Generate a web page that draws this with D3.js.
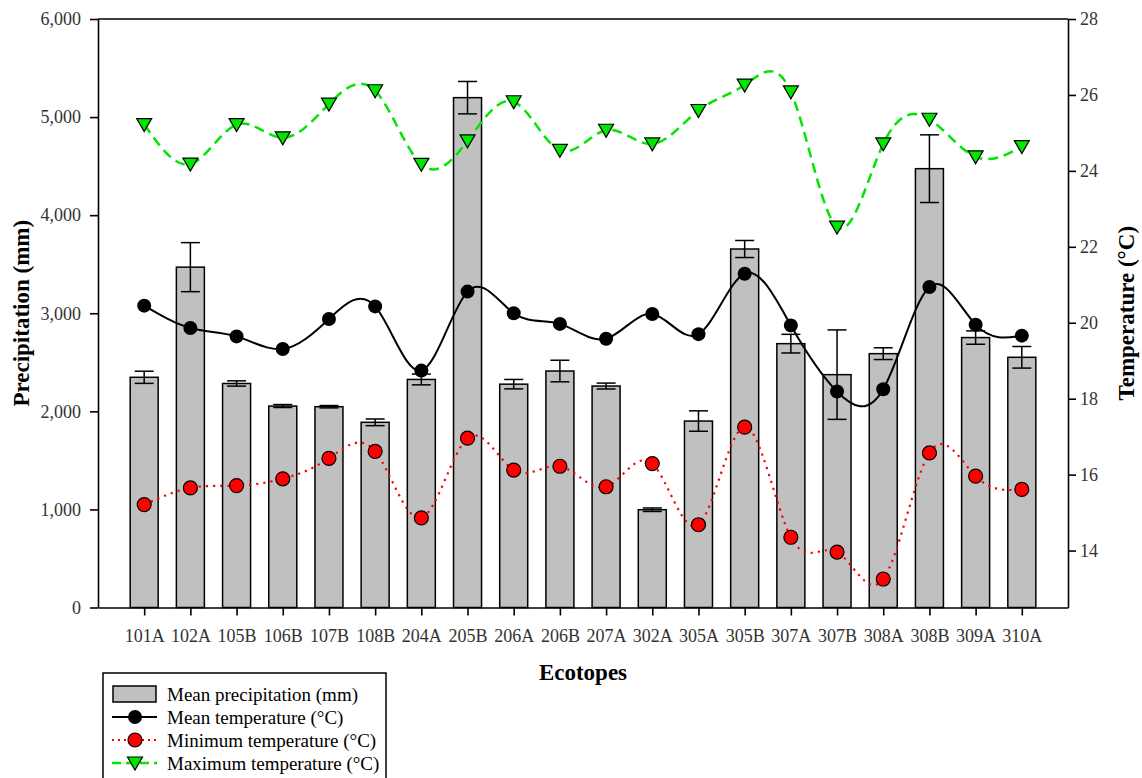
<!DOCTYPE html>
<html>
<head>
<meta charset="utf-8">
<script src="https://cdn.jsdelivr.net/npm/d3@7"></script>
<style>
  body { margin: 0; background: #fff; }
  text { font-family: "Liberation Serif", "Times New Roman", serif; }
</style>
</head>
<body>
<div id="vis"></div>
<script>
// ecotopes along the x axis
const ECOTOPES = ["101A", "102A", "105B", "106B", "107B", "108B", "204A", "205B", "206A", "206B",
                  "207A", "302A", "305A", "305B", "307A", "307B", "308A", "308B", "309A", "310A"];

// mean precipitation (mm) and its error (+/-)
const PRECIP = [2347, 3470, 2284, 2054, 2047, 1888, 2325, 5198, 2277, 2411,
                2258, 997, 1901, 3655, 2690, 2374, 2588, 4474, 2752, 2551];
const PRECIP_ERR = [62, 250, 27, 15, 12, 34, 55, 165, 48, 110,
                    30, 18, 104, 87, 95, 456, 60, 345, 68, 110];

// temperatures (°C)
const T_MEAN = [20.45, 19.86, 19.64, 19.31, 20.10, 20.43, 18.74, 20.82, 20.25, 19.97,
                19.58, 20.23, 19.70, 21.29, 19.93, 18.19, 18.25, 20.94, 19.95, 19.66];
const T_MIN = [15.21, 15.65, 15.71, 15.89, 16.43, 16.61, 14.86, 16.96, 16.12, 16.22,
               15.68, 16.29, 14.68, 17.25, 14.35, 13.96, 13.25, 16.57, 15.96, 15.61];
const T_MAX = [25.22, 24.18, 25.22, 24.87, 25.76, 26.11, 24.17, 24.79, 25.82, 24.54,
               25.07, 24.71, 25.59, 26.26, 26.08, 22.52, 24.71, 25.36, 24.37, 24.64];

// tick values
const PRECIP_TICKS = [0, 1000, 2000, 3000, 4000, 5000, 6000];
const TEMP_TICKS = [14, 16, 18, 20, 22, 24, 26, 28];

const LEGEND_ITEMS = [
    { label: "Mean precipitation (mm)", kind: "bar" },
    { label: "Mean temperature (°C)", kind: "mean" },
    { label: "Minimum temperature (°C)", kind: "min" },
    { label: "Maximum temperature (°C)", kind: "max" }
];

const width = 1142;
const height = 778;
const plot = { left: 98, right: 1068, top: 19, bottom: 607.5 };

const GREEN = "#00e600";
const RED = "#ff0000";

const svg = d3.select("#vis").append("svg")
    .attr("width", width)
    .attr("height", height);

svg.append("rect").attr("width", width).attr("height", height).attr("fill", "#fff");

const x = d3.scalePoint()
    .domain(ECOTOPES)
    .range([plot.left, plot.right])
    .padding(1);

const yP = d3.scaleLinear().domain([0, 6000]).range([plot.bottom, plot.top]);
const yT = d3.scaleLinear().domain([12.5, 28]).range([plot.bottom, plot.top]);

const rows = ECOTOPES.map((e, i) => ({
    eco: e, p: PRECIP[i], err: PRECIP_ERR[i],
    mean: T_MEAN[i], min: T_MIN[i], max: T_MAX[i]
}));

// bars
const barW = 28;
svg.append("g").selectAll("rect")
    .data(rows)
    .join("rect")
    .attr("x", d => x(d.eco) - barW / 2)
    .attr("y", d => yP(d.p))
    .attr("width", barW)
    .attr("height", d => yP(0) - yP(d.p))
    .attr("fill", "#c0c0c0")
    .attr("stroke", "#000")
    .attr("stroke-width", 1.5);

// error bars
const cap = 9.5;
const errG = svg.append("g").attr("stroke", "#000").attr("stroke-width", 1.5);
errG.selectAll(".err-v").data(rows).join("line")
    .attr("x1", d => x(d.eco)).attr("x2", d => x(d.eco))
    .attr("y1", d => yP(d.p + d.err)).attr("y2", d => yP(d.p - d.err));
errG.selectAll(".err-t").data(rows).join("line")
    .attr("x1", d => x(d.eco) - cap).attr("x2", d => x(d.eco) + cap)
    .attr("y1", d => yP(d.p + d.err)).attr("y2", d => yP(d.p + d.err));
errG.selectAll(".err-b").data(rows).join("line")
    .attr("x1", d => x(d.eco) - cap).attr("x2", d => x(d.eco) + cap)
    .attr("y1", d => yP(d.p - d.err)).attr("y2", d => yP(d.p - d.err));

// temperature lines (natural spline like sigmaplot)
function tempLine(key) {
    return d3.line()
        .x(d => x(d.eco))
        .y(d => yT(d[key]))
        .curve(d3.curveNatural);
}

svg.append("path").datum(rows)
    .attr("d", tempLine("mean"))
    .attr("fill", "none").attr("stroke", "#000").attr("stroke-width", 2);

svg.append("path").datum(rows)
    .attr("d", tempLine("min"))
    .attr("fill", "none").attr("stroke", RED).attr("stroke-width", 2.2)
    .attr("stroke-dasharray", "2.2 5");

svg.append("path").datum(rows)
    .attr("d", tempLine("max"))
    .attr("fill", "none").attr("stroke", GREEN).attr("stroke-width", 2.5)
    .attr("stroke-dasharray", "10 6");

// markers
const tri = "M-7.5,-6 L7.5,-6 L0,7 Z";

svg.append("g").selectAll("circle")
    .data(rows).join("circle")
    .attr("cx", d => x(d.eco)).attr("cy", d => yT(d.mean))
    .attr("r", 7).attr("fill", "#000");

svg.append("g").selectAll("circle")
    .data(rows).join("circle")
    .attr("cx", d => x(d.eco)).attr("cy", d => yT(d.min))
    .attr("r", 7).attr("fill", RED)
    .attr("stroke", "#000").attr("stroke-width", 1.2);

svg.append("g").selectAll("path")
    .data(rows).join("path")
    .attr("transform", d => `translate(${x(d.eco)},${yT(d.max)})`)
    .attr("d", tri)
    .attr("fill", GREEN)
    .attr("stroke", "#000").attr("stroke-width", 1.2);

// axes
function styleAxis(g) {
    g.selectAll("path, line").attr("stroke", "#000").attr("stroke-width", 1.6);
    g.selectAll("text")
        .style("font-family", "'Liberation Serif', 'Times New Roman', serif")
        .style("font-size", "18px")
        .attr("fill", "#333");
}

svg.append("g")
    .attr("transform", `translate(${plot.left},0)`)
    .call(d3.axisLeft(yP).tickValues(PRECIP_TICKS).tickFormat(d3.format(","))
        .tickSize(8).tickSizeOuter(0).tickPadding(9))
    .call(styleAxis);

svg.append("g")
    .attr("transform", `translate(${plot.right},0)`)
    .call(d3.axisRight(yT).tickValues(TEMP_TICKS)
        .tickSize(8).tickSizeOuter(0).tickPadding(4))
    .call(styleAxis);

svg.append("g")
    .attr("transform", `translate(0,${plot.bottom})`)
    .call(d3.axisBottom(x).tickSize(8).tickSizeOuter(0).tickPadding(14))
    .call(styleAxis);

// top frame line
svg.append("line")
    .attr("x1", plot.left).attr("x2", plot.right)
    .attr("y1", plot.top).attr("y2", plot.top)
    .attr("stroke", "#000").attr("stroke-width", 1.6);

// axis titles
svg.append("text")
    .attr("transform", `translate(29,${(plot.top + plot.bottom) / 2}) rotate(-90)`)
    .attr("text-anchor", "middle")
    .style("font-size", "23px").style("font-weight", "bold")
    .text("Precipitation (mm)");

svg.append("text")
    .attr("transform", `translate(1134,${(plot.top + plot.bottom) / 2}) rotate(-90)`)
    .attr("text-anchor", "middle")
    .style("font-size", "23px").style("font-weight", "bold")
    .text("Temperature (°C)");

svg.append("text")
    .attr("x", 583).attr("y", 680)
    .attr("text-anchor", "middle")
    .style("font-size", "23px").style("font-weight", "bold")
    .text("Ecotopes");

// legend
const legend = svg.append("g").attr("transform", "translate(103,673)");
legend.append("rect")
    .attr("x", 0).attr("y", 0)
    .attr("width", 283).attr("height", 120)
    .attr("fill", "#fff").attr("stroke", "#000").attr("stroke-width", 1.5);

const rowH = 23;
const item = legend.selectAll(".item")
    .data(LEGEND_ITEMS).join("g")
    .attr("transform", (d, i) => `translate(0,${21 + i * rowH})`);

item.append("text")
    .attr("x", 64).attr("y", 0).attr("dy", "0.35em")
    .style("font-size", "19px")
    .attr("fill", "#000")
    .text(d => d.label);

item.each(function(d) {
    const gi = d3.select(this);
    if (d.kind === "bar") {
        gi.append("rect").attr("x", 10).attr("y", -8).attr("width", 43).attr("height", 16)
            .attr("fill", "#c0c0c0").attr("stroke", "#000").attr("stroke-width", 1.5);
        return;
    }
    const ln = gi.append("line").attr("x1", 9).attr("x2", 54).attr("y1", 0).attr("y2", 0);
    if (d.kind === "mean") {
        ln.attr("stroke", "#000").attr("stroke-width", 2);
        gi.append("circle").attr("cx", 32).attr("cy", 0).attr("r", 7).attr("fill", "#000");
    } else if (d.kind === "min") {
        ln.attr("stroke", RED).attr("stroke-width", 2).attr("stroke-dasharray", "2 4");
        gi.append("circle").attr("cx", 32).attr("cy", 0).attr("r", 7)
            .attr("fill", RED).attr("stroke", "#000").attr("stroke-width", 1.2);
    } else {
        ln.attr("stroke", GREEN).attr("stroke-width", 2.5).attr("stroke-dasharray", "9 5");
        gi.append("path").attr("transform", "translate(32,0)").attr("d", tri)
            .attr("fill", GREEN).attr("stroke", "#000").attr("stroke-width", 1.2);
    }
});
</script>
</body>
</html>
